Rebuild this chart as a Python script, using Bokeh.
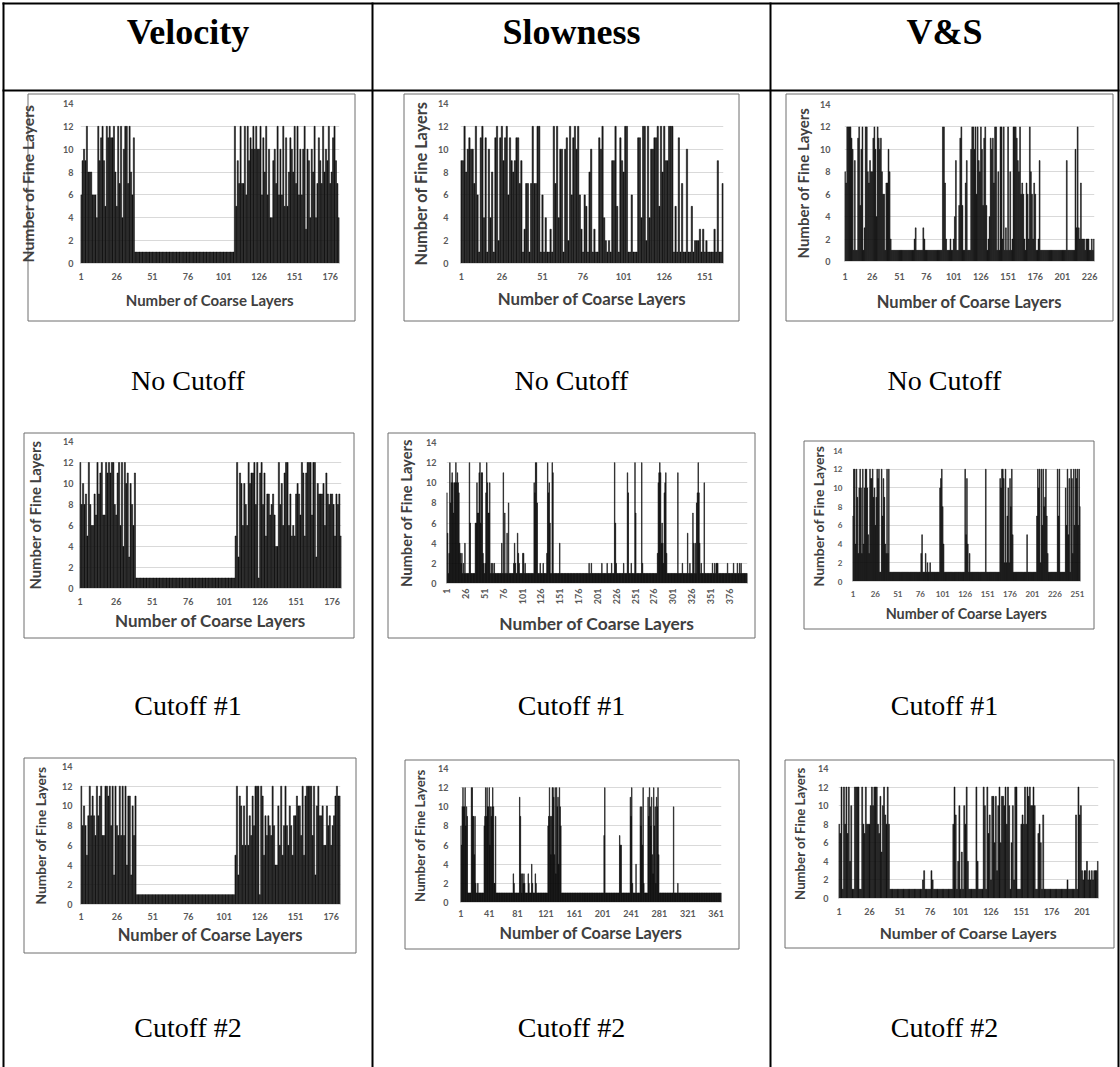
import math
from bokeh.plotting import figure
from bokeh.models import Range1d, FixedTicker, GridBox
from bokeh.core.properties import value
from bokeh.embed import file_html
from bokeh.resources import INLINE

W, H = 1120, 1067

col_headers = ["Velocity", "Slowness", "V&S"]
row_captions = ["No Cutoff", "Cutoff #1", "Cutoff #2"]
x_title = "Number of Coarse Layers"
y_title = "Number of Fine Layers"
y_ticks = [0, 2, 4, 6, 8, 10, 12, 14]

# ---------------- data (number of fine layers per coarse layer) ----------------
vel_none = [
    6, 9, 10, 9, 12, 8, 8, 8, 6, 6,
    6, 4, 12, 9, 11, 12, 9, 5, 12, 11,
    12, 11, 11, 12, 8, 5, 12, 7, 12, 4,
    10, 12, 12, 7, 12, 8, 6, 11,
    1, 1, 1, 1, 1, 1, 1, 1, 1, 1,
    1, 1, 1, 1, 1, 1, 1, 1, 1, 1,
    1, 1, 1, 1, 1, 1, 1, 1, 1, 1,
    1, 1, 1, 1, 1, 1, 1, 1, 1, 1,
    1, 1, 1, 1, 1, 1, 1, 1, 1, 1,
    1, 1, 1, 1, 1, 1, 1, 1, 1, 1,
    1, 1, 1, 1, 1, 1, 1, 1, 1, 1,
    12, 5, 9, 7, 12, 7, 7, 12, 6, 12,
    9, 11, 10, 12, 10, 12, 10, 10, 12, 6,
    11, 8, 12, 6, 10, 4, 4, 9, 10, 7,
    12, 6, 10, 6, 12, 5, 11, 5, 8, 11,
    10, 8, 12, 7, 12, 6, 10, 6, 10, 12,
    3, 10, 9, 4, 10, 8, 12, 4, 7, 11,
    9, 7, 12, 8, 10, 9, 12, 7, 8, 11,
    12, 9, 7, 4,
]

slow_none = [
    9, 9, 12, 8, 10, 11, 10, 10, 7, 12,
    6, 1, 11, 12, 4, 11, 1, 10, 4, 8,
    1, 11, 12, 2, 11, 12, 9, 11, 12, 6,
    11, 9, 8, 9, 11, 11, 7, 9, 1, 3,
    7, 7, 1, 7, 12, 7, 7, 12, 12, 1,
    6, 1, 4, 1, 1, 3, 1, 12, 7, 12,
    4, 10, 10, 1, 10, 11, 2, 12, 6, 11,
    12, 10, 12, 6, 3, 1, 6, 5, 1, 8,
    10, 1, 3, 1, 1, 11, 10, 12, 4, 2,
    1, 2, 1, 9, 9, 12, 5, 1, 11, 9,
    8, 12, 12, 1, 1, 6, 1, 1, 1, 11,
    11, 4, 12, 12, 2, 12, 4, 10, 10, 11,
    11, 12, 5, 12, 8, 12, 9, 9, 12, 12,
    12, 1, 5, 1, 11, 1, 7, 1, 1, 10,
    1, 1, 5, 1, 2, 2, 2, 3, 1, 3,
    1, 2, 1, 1, 1, 1, 3, 1, 9, 1,
    1, 7,
]

vs_none = [
    8, 7, 12, 12, 12, 12, 11, 10, 1, 9,
    1, 1, 11, 12, 5, 10, 12, 1, 3, 12,
    12, 8, 7, 9, 8, 8, 11, 12, 10, 4,
    12, 11, 10, 11, 8, 6, 6, 1, 7, 7,
    10, 8, 2, 1, 1, 1, 1, 1, 1, 1,
    1, 1, 1, 1, 1, 1, 1, 1, 1, 1,
    1, 1, 1, 1, 2, 3, 1, 1, 1, 1,
    1, 1, 3, 2, 1, 1, 1, 1, 1, 1,
    1, 1, 1, 1, 1, 1, 1, 1, 1, 1,
    12, 12, 7, 2, 1, 1, 1, 2, 1, 1,
    2, 4, 9, 1, 1, 5, 11, 12, 5, 1,
    1, 7, 9, 1, 1, 1, 10, 12, 12, 10,
    12, 6, 12, 9, 8, 12, 10, 5, 11, 12,
    5, 1, 2, 4, 11, 10, 11, 7, 12, 12,
    1, 8, 1, 12, 12, 2, 12, 1, 3, 1,
    12, 1, 8, 1, 2, 12, 12, 12, 11, 9,
    8, 12, 6, 7, 6, 2, 1, 7, 6, 2,
    12, 8, 6, 2, 7, 6, 1, 1, 2, 9,
    1, 1, 1, 1, 1, 1, 1, 1, 1, 1,
    1, 1, 1, 1, 1, 1, 1, 1, 1, 1,
    1, 1, 1, 1, 9, 1, 1, 1, 1, 1,
    1, 1, 10, 3, 12, 3, 2, 7, 2, 2,
    2, 1, 2, 2, 2, 1, 1, 2, 1, 2,
]

vel_c1 = [
    12, 8, 10, 8, 9, 5, 12, 8, 6, 6,
    9, 7, 12, 9, 11, 12, 7, 7, 12, 11,
    12, 11, 12, 12, 8, 7, 11, 12, 6, 12,
    4, 12, 10, 11, 3, 10, 8, 6, 11,
    1, 1, 1, 1, 1, 1, 1, 1, 1, 1,
    1, 1, 1, 1, 1, 1, 1, 1, 1, 1,
    1, 1, 1, 1, 1, 1, 1, 1, 1, 1,
    1, 1, 1, 1, 1, 1, 1, 1, 1, 1,
    1, 1, 1, 1, 1, 1, 1, 1, 1, 1,
    1, 1, 1, 1, 1, 1, 1, 1, 1, 1,
    1, 1, 1, 1, 1, 1, 1, 1, 1,
    5, 12, 3, 11, 10, 6, 10, 8, 6, 12,
    10, 11, 11, 12, 8, 12, 1, 11, 12, 8,
    11, 5, 9, 9, 7, 8, 9, 7, 4, 4,
    12, 8, 10, 6, 11, 12, 12, 6, 9, 5,
    6, 5, 9, 10, 9, 7, 12, 11, 5, 11,
    12, 12, 12, 7, 12, 12, 3, 10, 9, 9,
    9, 10, 6, 11, 9, 8, 9, 9, 8, 5,
    9, 8, 9, 5,
]

slow_c1 = [
    9, 5, 1, 3, 12, 8, 10, 11, 10, 7,
    10, 10, 12, 10, 11, 10, 9, 4, 3, 2,
    3, 1, 2, 1, 4, 1, 1, 1, 1, 1,
    12, 6, 1, 1, 1, 1, 1, 1, 6, 6,
    10, 7, 7, 11, 12, 6, 11, 11, 3, 2,
    1, 2, 9, 12, 10, 7, 7, 10, 1, 2,
    1, 2, 1, 2, 1, 1, 1, 1, 1, 1,
    1, 1, 1, 4, 1, 11, 1, 7, 1, 1,
    5, 1, 8, 1, 1, 1, 1, 1, 1, 2,
    4, 2, 1, 1, 5, 3, 2, 1, 1, 1,
    1, 3, 3, 1, 2, 1, 1, 1, 1, 1,
    1, 1, 1, 1, 1, 1, 10, 9, 12, 12,
    8, 1, 1, 1, 2, 1, 1, 1, 2, 1,
    1, 1, 1, 3, 12, 9, 10, 6, 1, 1,
    12, 11, 1, 1, 1, 1, 1, 1, 1, 1,
    4, 1, 1, 1, 1, 1, 1, 1, 1, 1,
    1, 1, 1, 1, 1, 1, 1, 1, 1, 1,
    1, 1, 1, 1, 1, 1, 1, 1, 1, 1,
    1, 1, 1, 1, 1, 1, 1, 1, 1, 2,
    1, 1, 2, 1, 1, 1, 1, 1, 1, 1,
    1, 1, 1, 1, 1, 1, 2, 1, 1, 1,
    1, 1, 1, 2, 1, 1, 1, 1, 1, 2,
    1, 1, 1, 12, 6, 2, 1, 1, 1, 1,
    1, 1, 1, 1, 1, 2, 1, 1, 1, 1,
    11, 9, 1, 1, 1, 2, 1, 1, 1, 1,
    12, 7, 1, 1, 1, 1, 1, 1, 1, 12,
    2, 1, 1, 1, 1, 1, 1, 1, 1, 1,
    1, 1, 1, 1, 1, 1, 1, 1, 1, 1,
    3, 10, 11, 12, 11, 4, 6, 4, 2, 9,
    10, 11, 3, 1, 1, 1, 1, 1, 1, 1,
    1, 1, 1, 1, 1, 1, 1, 11, 1, 1,
    1, 1, 1, 2, 1, 1, 1, 1, 1, 1,
    5, 1, 1, 2, 1, 1, 1, 7, 4, 1,
    4, 1, 8, 9, 12, 9, 4, 1, 2, 1,
    1, 1, 10, 1, 1, 1, 1, 1, 1, 1,
    1, 1, 1, 2, 1, 1, 2, 1, 2, 2,
    2, 1, 1, 1, 1, 1, 1, 1, 1, 1,
    1, 1, 1, 2, 1, 1, 1, 1, 1, 1,
    1, 2, 1, 1, 1, 1, 2, 1, 1, 2,
    1, 2, 1, 1, 1, 1, 1, 1, 1, 1,
]

vs_c1 = [
    7, 12, 12, 4, 12, 9, 3, 10, 12, 10,
    3, 12, 4, 10, 12, 12, 10, 5, 3, 12,
    11, 11, 12, 9, 10, 6, 9, 12, 11, 12,
    1, 1, 12, 7, 11, 9, 4, 3, 12, 3,
    12, 1, 1, 1, 1, 1, 1, 1, 1, 1,
    1, 1, 1, 1, 1, 1, 1, 1, 1, 1,
    1, 1, 1, 1, 1, 1, 1, 1, 1, 1,
    1, 1, 1, 1, 1, 1, 3, 5, 1, 1,
    1, 3, 1, 2, 1, 1, 2, 1, 1, 1,
    1, 1, 1, 1, 1, 1, 1, 10, 11, 12,
    8, 4, 1, 1, 1, 1, 1, 1, 1, 1,
    1, 1, 1, 1, 1, 1, 1, 1, 1, 1,
    1, 1, 1, 1, 1, 12, 5, 11, 4, 1,
    3, 1, 1, 1, 1, 1, 1, 1, 1, 1,
    1, 1, 1, 1, 1, 1, 1, 1, 12, 1,
    1, 1, 1, 1, 1, 1, 1, 1, 1, 1,
    1, 1, 1, 1, 11, 10, 12, 12, 11, 2,
    12, 2, 7, 10, 2, 11, 8, 12, 5, 1,
    1, 1, 1, 1, 1, 1, 1, 1, 1, 1,
    1, 1, 1, 1, 5, 1, 1, 1, 1, 1,
    1, 1, 1, 1, 1, 7, 12, 10, 12, 2,
    12, 6, 12, 8, 9, 12, 7, 3, 1, 1,
    1, 1, 1, 1, 1, 1, 1, 1, 12, 7,
    12, 1, 1, 1, 1, 1, 1, 10, 6, 12,
    5, 11, 1, 12, 11, 3, 12, 6, 12, 11,
    12, 6, 12, 8,
]

vel_c2 = [
    12, 8, 10, 8, 5, 9, 12, 9, 11, 9,
    7, 12, 9, 11, 12, 7, 7, 12, 12, 11,
    12, 8, 12, 3, 12, 8, 7, 12, 7, 12,
    7, 12, 4, 11, 11, 3, 10, 7, 11,
    1, 1, 1, 1, 1, 1, 1, 1, 1, 1,
    1, 1, 1, 1, 1, 1, 1, 1, 1, 1,
    1, 1, 1, 1, 1, 1, 1, 1, 1, 1,
    1, 1, 1, 1, 1, 1, 1, 1, 1, 1,
    1, 1, 1, 1, 1, 1, 1, 1, 1, 1,
    1, 1, 1, 1, 1, 1, 1, 1, 1, 1,
    1, 1, 1, 1, 1, 1, 1, 1, 1,
    5, 12, 3, 11, 10, 6, 10, 6, 12, 6,
    9, 7, 11, 8, 12, 12, 12, 1, 12, 11,
    5, 9, 7, 9, 8, 7, 12, 8, 4, 4,
    10, 6, 12, 5, 8, 12, 8, 6, 10, 8,
    5, 9, 9, 11, 10, 10, 7, 12, 5, 11,
    12, 12, 12, 12, 7, 12, 3, 10, 12, 9,
    9, 10, 6, 6, 10, 8, 9, 6, 8, 9,
    11, 12, 11, 11,
]

slow_c2 = [
    8, 6, 10, 12, 10, 10, 12, 8, 10, 9,
    1, 1, 1, 1, 1, 12, 12, 9, 9, 5,
    9, 2, 1, 1, 2, 1, 1, 1, 1, 1,
    1, 1, 1, 8, 9, 12, 9, 12, 10, 10,
    12, 6, 10, 9, 10, 12, 10, 2, 2, 9,
    1, 1, 1, 1, 1, 1, 1, 1, 1, 1,
    1, 1, 1, 1, 1, 1, 1, 1, 1, 1,
    1, 1, 1, 1, 3, 2, 1, 1, 1, 1,
    1, 1, 1, 11, 9, 3, 1, 3, 2, 3,
    2, 1, 1, 1, 1, 3, 2, 1, 1, 1,
    4, 2, 1, 1, 1, 3, 2, 1, 1, 1,
    1, 1, 1, 1, 1, 1, 1, 1, 1, 1,
    1, 1, 1, 8, 9, 12, 9, 5, 9, 12,
    12, 11, 5, 12, 3, 12, 10, 11, 4, 12,
    10, 8, 1, 1, 1, 1, 1, 1, 1, 1,
    1, 1, 1, 1, 1, 1, 1, 1, 1, 1,
    1, 1, 1, 1, 1, 1, 1, 1, 1, 1,
    1, 1, 1, 1, 1, 1, 1, 1, 1, 1,
    1, 1, 1, 1, 1, 1, 1, 1, 1, 1,
    1, 1, 1, 1, 1, 1, 1, 1, 1, 1,
    1, 1, 7, 12, 1, 1, 1, 1, 1, 1,
    1, 1, 1, 1, 1, 1, 1, 1, 1, 1,
    1, 1, 1, 1, 7, 6, 6, 1, 1, 1,
    1, 1, 1, 1, 1, 1, 1, 1, 1, 11,
    9, 12, 2, 1, 1, 1, 1, 4, 1, 1,
    1, 1, 1, 10, 8, 10, 6, 12, 2, 1,
    1, 1, 1, 1, 11, 9, 12, 10, 8, 11,
    5, 3, 12, 8, 10, 2, 11, 10, 12, 5,
    1, 1, 1, 1, 1, 1, 1, 1, 1, 1,
    1, 1, 1, 1, 1, 1, 1, 1, 1, 1,
    10, 1, 1, 1, 1, 1, 2, 1, 1, 1,
    1, 1, 1, 1, 1, 1, 1, 1, 1, 1,
    1, 1, 1, 1, 1, 1, 1, 1, 1, 1,
    1, 1, 1, 1, 1, 1, 1, 1, 1, 1,
    1, 1, 1, 1, 1, 1, 1, 1, 1, 1,
    1, 1, 1, 1, 1, 1, 1, 1, 1, 1,
    1, 1, 1, 1, 1, 1, 1, 1,
]

vs_c2 = [
    8, 7, 12, 1, 12, 8, 12, 7, 12, 4,
    10, 1, 1, 12, 12, 12, 12, 1, 1, 12,
    8, 7, 12, 8, 8, 8, 10, 12, 10, 12,
    12, 12, 8, 7, 11, 5, 10, 12, 9, 8,
    12, 8, 1, 1, 1, 1, 1, 1, 1, 1,
    1, 1, 1, 1, 1, 1, 1, 1, 1, 1,
    1, 1, 1, 1, 1, 1, 1, 1, 1, 2,
    3, 1, 1, 1, 1, 1, 3, 2, 1, 1,
    1, 1, 1, 1, 1, 1, 1, 1, 1, 1,
    1, 1, 1, 1, 8, 12, 9, 1, 4, 10,
    1, 5, 1, 10, 8, 12, 4, 1, 1, 1,
    1, 1, 1, 12, 4, 1, 1, 1, 1, 12,
    10, 1, 12, 7, 9, 2, 11, 11, 6, 11,
    3, 10, 12, 6, 11, 11, 10, 12, 8, 12,
    10, 1, 6, 10, 2, 12, 12, 1, 1, 1,
    8, 9, 8, 12, 8, 12, 11, 12, 10, 10,
    12, 10, 1, 1, 7, 8, 6, 1, 9, 1,
    1, 1, 1, 1, 1, 1, 1, 1, 1, 1,
    1, 1, 1, 1, 1, 1, 1, 1, 2, 1,
    1, 1, 1, 1, 1, 9, 1, 12, 9, 10,
    3, 2, 3, 3, 4, 2, 3, 2, 3, 2,
    3, 3, 3, 4,
]

# ---------------- layout ----------------
# box: chart-area border (x0, y0, x1, y1); frame: plot area (left, right, top, bottom)
# off: (y-label right edge, y-title centre, x-label centre, x-title centre) offsets from frame
# fonts: (tick px, y-title px, x-title px)
charts = [
    dict(vals=vel_none, step=25, box=(27, 93, 355, 321), frame=(80, 339, 103, 263),
         off=(7.5, 48, 15, 37), fonts=(9, 15.7, 15), rot=False),
    dict(vals=slow_none, step=25, box=(403, 93, 739, 321), frame=(460, 723, 103, 263),
         off=(12, 35, 15, 35), fonts=(9, 16.3, 16.8), rot=False),
    dict(vals=vs_none, step=25, box=(785, 93, 1113, 321), frame=(844, 1094, 104, 261),
         off=(14, 36, 17, 41), fonts=(9, 15, 16.5), rot=False),
    dict(vals=vel_c1, step=25, box=(23, 432, 354, 638), frame=(79, 341, 441, 588),
         off=(7, 40, 15, 32), fonts=(9, 14.8, 17), rot=False),
    dict(vals=slow_c1, step=25, box=(387, 432, 755, 638), frame=(446, 747, 442, 583),
         off=(11, 36, 5, 37), fonts=(9, 14.7, 17.4), rot=True),
    dict(vals=vs_c1, step=25, box=(803, 440, 1094, 629), frame=(852, 1080, 450, 581),
         off=(10, 29, 14, 32), fonts=(8, 14, 14.4), rot=False),
    dict(vals=vel_c2, step=25, box=(23, 757, 356, 953), frame=(80, 340, 766, 904),
         off=(8, 35, 14, 31), fonts=(9, 13.7, 16.5), rot=False),
    dict(vals=slow_c2, step=40, box=(404, 759, 739, 949), frame=(460, 721, 768, 902),
         off=(12, 35, 13, 31), fonts=(9, 13.2, 16.3), rot=False),
    dict(vals=vs_c2, step=25, box=(784, 759, 1114, 948), frame=(838, 1098, 768, 898),
         off=(10, 33, 15, 35), fonts=(9, 13.2, 15.8), rot=False),
]

col_centers = [187.5, 571, 944]
caption_y = [380, 705, 1027]

AX_FONT = "Lato"
BAR_FILL = "#242424"
BAR_LINE = "#000000"
BL, BR, BT, BB = 70, 6, 6, 62   # generous canvas borders around each plot frame


def make_chart(c):
    vals = c["vals"]
    n = len(vals)
    fl, fr, ft, fb = c["frame"]
    d_yl, d_yt, d_xl, d_xt = c["off"]
    tick_px, ty_px, tx_px = c["fonts"]
    f = figure(width=(fr - fl) + BL + BR, height=(fb - ft) + BT + BB,
               x_range=Range1d(0.5, n + 0.5), y_range=Range1d(0, 14),
               output_backend="svg", toolbar_location=None,
               min_border_left=BL, min_border_right=BR,
               min_border_top=BT, min_border_bottom=BB,
               background_fill_alpha=0, border_fill_alpha=0,
               outline_line_color=None)
    f.vbar(x=list(range(1, n + 1)), top=vals, bottom=0, width=0.8,
           fill_color=BAR_FILL, line_color=BAR_LINE, line_width=0.5)
    f.xgrid.visible = False
    f.ygrid.grid_line_color = "#d9d9d9"
    f.ygrid.grid_line_width = 1
    f.yaxis.ticker = FixedTicker(ticks=y_ticks)
    f.xaxis.ticker = FixedTicker(ticks=list(range(1, n + 1, c["step"])))
    for ax in (f.xaxis[0], f.yaxis[0]):
        ax.major_tick_line_color = None
        ax.minor_tick_line_color = None
        ax.major_tick_out = 0
        ax.major_tick_in = 0
        ax.minor_tick_out = 0
        ax.minor_tick_in = 0
        ax.major_label_text_font = AX_FONT
        ax.major_label_text_font_style = "bold"
        ax.major_label_text_font_size = f"{tick_px}px"
        ax.major_label_text_color = "#595959"
        ax.axis_label_text_font = AX_FONT
        ax.axis_label_text_font_style = "bold"
        ax.axis_label_text_color = "#404040"
    f.yaxis.axis_label_text_font_size = f"{ty_px}px"
    f.xaxis.axis_label_text_font_size = f"{tx_px}px"
    f.yaxis.axis_line_color = None
    f.xaxis.axis_line_color = "#d9d9d9"
    f.yaxis.axis_label = y_title
    f.xaxis.axis_label = x_title
    ymls = d_yl - 0.5
    f.yaxis.major_label_standoff = int(round(ymls))
    f.yaxis.axis_label_standoff = int(round(max(0, d_yt - ymls - 1.16 * tick_px - 0.49 * ty_px)))
    if c["rot"]:
        f.xaxis.major_label_orientation = math.pi / 2
        xmls = d_xl
        lab_ext = 3 * 0.58 * tick_px
    else:
        xmls = d_xl - 0.63 * tick_px
        lab_ext = 1.2 * tick_px
    f.xaxis.major_label_standoff = int(round(xmls))
    f.xaxis.axis_label_standoff = int(round(max(0, d_xt - xmls - lab_ext - 0.61 * tx_px)))
    return f, fl - BL, ft - BT, (fr - fl) + BL + BR, (fb - ft) + BT + BB


# ---------------- background: table, headers, captions, chart frames ----------------
bg = figure(width=W, height=H, x_range=Range1d(0, W), y_range=Range1d(H, 0),
            output_backend="svg", toolbar_location=None, min_border=0,
            x_axis_type=None, y_axis_type=None, outline_line_color=None,
            background_fill_color="white", border_fill_color="white")
bg.grid.visible = False

vx = [3, 372, 770, 1118]
bg.segment(x0=vx, y0=[2] * 4, x1=vx, y1=[H] * 4, line_color="black", line_width=2)
bg.segment(x0=[2, 2], y0=[3, 90], x1=[1119, 1119], y1=[3, 90], line_color="black", line_width=2)

bg.quad(left=[c["box"][0] + 0.5 for c in charts], right=[c["box"][2] - 0.5 for c in charts],
        top=[c["box"][1] + 0.5 for c in charts], bottom=[c["box"][3] - 0.5 for c in charts],
        fill_color=None, line_color="#6e6e6e", line_width=1)

bg.text(x=col_centers, y=[31] * 3, text=col_headers,
        text_font=value("Liberation Serif"), text_font_style="bold",
        text_font_size="36px", text_align="center", text_baseline="middle",
        text_color="black")
cap_x, cap_y, cap_t = [], [], []
for r, cy in enumerate(caption_y):
    for cx in col_centers:
        cap_x.append(cx)
        cap_y.append(cy)
        cap_t.append(row_captions[r])
bg.text(x=cap_x, y=cap_y, text=cap_t, text_font=value("Liberation Serif"),
        text_font_size="28px", text_align="center", text_baseline="middle",
        text_color="black")

# ---------------- assemble with an overlapping CSS grid ----------------
placements = [(bg, 0, 0, W, H)]
for c in charts:
    placements.append(make_chart(c))

xb = sorted({v for _, px, _, pw, _ in placements for v in (px, px + pw)})
yb = sorted({v for _, _, py, _, ph in placements for v in (py, py + ph)})
cols = [f"{b - a}px" for a, b in zip(xb, xb[1:])]
rows = [f"{b - a}px" for a, b in zip(yb, yb[1:])]
children = []
for fig, px, py, pw, ph in placements:
    c0, c1 = xb.index(px), xb.index(px + pw)
    r0, r1 = yb.index(py), yb.index(py + ph)
    children.append((fig, r0, c0, r1 - r0, c1 - c0))

p = GridBox(children=children, rows=rows, cols=cols, spacing=0)

open("out.html", "w").write(file_html(p, INLINE))
